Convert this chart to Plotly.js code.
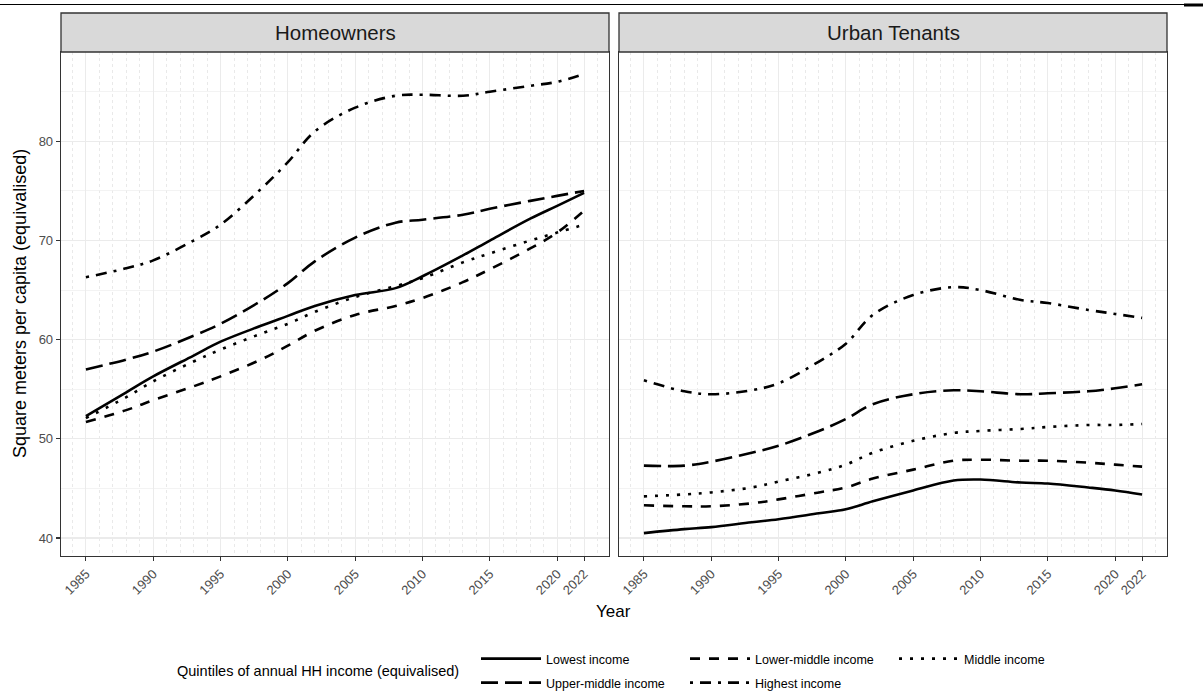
<!DOCTYPE html>
<html>
<head>
<meta charset="utf-8">
<script src="https://cdn.plot.ly/plotly-3.0.1.min.js"></script>
<style>
  html, body { margin: 0; padding: 0; background: #ffffff; }
  #chart { width: 1203px; height: 693px; }
</style>
</head>
<body>
<div id="chart"></div>
<script>
// Smoothed living space per capita (m², equivalised) by income quintile
const years = [1985, 1988, 1990, 1993, 1995, 1998, 2000, 2002, 2005, 2008, 2010, 2013, 2015, 2018, 2020, 2022];

const ownersLowest      = [52.3, 54.7, 56.3, 58.4, 59.8, 61.4, 62.4, 63.4, 64.5, 65.2, 66.4, 68.5, 70.0, 72.2, 73.5, 74.8];
const ownersLowerMiddle = [51.7, 52.9, 53.9, 55.3, 56.3, 58.0, 59.4, 60.9, 62.5, 63.4, 64.2, 65.8, 67.1, 69.2, 70.8, 73.0];
const ownersMiddle      = [52.1, 54.2, 55.8, 57.8, 59.0, 60.6, 61.6, 62.8, 64.3, 65.4, 66.2, 67.8, 68.7, 70.0, 70.8, 71.6];
const ownersUpperMiddle = [57.0, 58.0, 58.8, 60.4, 61.6, 63.9, 65.7, 67.9, 70.3, 71.8, 72.1, 72.6, 73.2, 74.0, 74.5, 75.0];
const ownersHighest     = [66.3, 67.2, 68.0, 70.0, 71.6, 75.2, 77.9, 81.0, 83.4, 84.6, 84.7, 84.6, 85.0, 85.6, 86.0, 86.8];

const tenantsLowest      = [40.5, 40.9, 41.1, 41.6, 41.9, 42.5, 42.9, 43.7, 44.8, 45.8, 45.9, 45.6, 45.5, 45.1, 44.8, 44.4];
const tenantsLowerMiddle = [43.3, 43.2, 43.2, 43.5, 43.9, 44.6, 45.1, 46.0, 46.9, 47.8, 47.9, 47.8, 47.8, 47.6, 47.4, 47.2];
const tenantsMiddle      = [44.2, 44.4, 44.6, 45.1, 45.7, 46.6, 47.4, 48.6, 49.8, 50.6, 50.8, 51.0, 51.2, 51.4, 51.4, 51.5];
const tenantsUpperMiddle = [47.3, 47.3, 47.7, 48.6, 49.3, 50.8, 52.0, 53.5, 54.5, 54.9, 54.8, 54.5, 54.6, 54.8, 55.1, 55.5];
const tenantsHighest     = [55.9, 54.8, 54.5, 54.9, 55.6, 57.8, 59.6, 62.5, 64.5, 65.3, 65.0, 64.0, 63.7, 63.0, 62.6, 62.2];

const quintiles = ['Lowest income', 'Lower-middle income', 'Middle income', 'Upper-middle income', 'Highest income'];
const panels = ['Homeowners', 'Urban Tenants'];
const tickYears = [1985, 1990, 1995, 2000, 2005, 2010, 2015, 2020, 2022];

const ownerSeries  = [ownersLowest, ownersLowerMiddle, ownersMiddle, ownersUpperMiddle, ownersHighest];
const tenantSeries = [tenantsLowest, tenantsLowerMiddle, tenantsMiddle, tenantsUpperMiddle, tenantsHighest];

// line types: solid, dashed, dotted, long dash, dot-dash
const dashes = ['solid', '10px,9px', '3px,8px', '17px,7px', '3px,7px,11px,7px'];
const legendSlot = ['legend', 'legend', 'legend', 'legend2', 'legend2'];

const W = 1203, H = 693;
const px = v => v / W;          // horizontal pixel -> paper
const py = v => (H - v) / H;    // vertical pixel -> paper

const FONT = 'Liberation Sans, Arial, Helvetica, sans-serif';

const traces = [];
[ownerSeries, tenantSeries].forEach((group, p) => {
  group.forEach((vals, i) => {
    traces.push({
      type: 'scatter',
      mode: 'lines',
      x: years,
      y: vals,
      name: quintiles[i],
      legendgroup: quintiles[i],
      legend: legendSlot[i],
      showlegend: p === 0,
      xaxis: p === 0 ? 'x' : 'x2',
      yaxis: p === 0 ? 'y' : 'y2',
      line: { color: '#000000', width: 2.6, dash: dashes[i], shape: 'spline', smoothing: 1.0 },
      hoverinfo: 'skip'
    });
  });
});

const xRange = [1983.15, 2023.85];
const yRange = [38.19, 89.01];

function xAxis(domain) {
  return {
    domain: domain,
    range: xRange,
    automargin: false,
    tickmode: 'array',
    tickvals: tickYears,
    ticktext: tickYears.map(String),
    tickangle: -45,
    tickfont: { family: FONT, size: 13, color: '#4D4D4D' },
    ticks: 'outside',
    ticklen: 4,
    tickwidth: 1.1,
    tickcolor: '#333333',
    showline: true,
    mirror: true,
    linecolor: '#333333',
    linewidth: 1.3,
    showgrid: true,
    gridcolor: '#EBEBEB',
    gridwidth: 1.1,
    zeroline: false,
    minor: {
      tickmode: 'linear', tick0: 1985, dtick: 1,
      showgrid: true, gridcolor: '#DADADA', gridwidth: 0.6, griddash: 'dot', ticks: ''
    },
    fixedrange: true
  };
}

function yAxis(domain, withLabels, anchor) {
  return {
    domain: domain,
    range: yRange,
    anchor: anchor,
    automargin: false,
    tickmode: 'linear',
    tick0: 0,
    dtick: 10,
    showticklabels: withLabels,
    tickfont: { family: FONT, size: 13, color: '#4D4D4D' },
    ticks: withLabels ? 'outside' : '',
    ticklen: 4,
    tickwidth: 1.1,
    tickcolor: '#333333',
    showline: true,
    mirror: true,
    linecolor: '#333333',
    linewidth: 1.3,
    showgrid: true,
    gridcolor: '#EBEBEB',
    gridwidth: 1.1,
    zeroline: false,
    minor: { tickmode: 'linear', tick0: 0, dtick: 5, showgrid: true, gridcolor: '#F0F0F0', gridwidth: 0.8, ticks: '' },
    fixedrange: true
  };
}

const plotTop = 52, plotBottom = 556, stripTop = 13;
const leftDom = [px(61), px(609)];
const rightDom = [px(619), px(1167)];
const yDom = [py(plotBottom), py(plotTop)];

const shapes = [];
const annotations = [];

[leftDom, rightDom].forEach((dom, p) => {
  shapes.push({
    type: 'rect', xref: 'paper', yref: 'paper',
    x0: dom[0], x1: dom[1], y0: py(plotTop), y1: py(stripTop),
    fillcolor: '#D9D9D9', line: { color: '#333333', width: 1.3 }, layer: 'above'
  });
  annotations.push({
    xref: 'paper', yref: 'paper', x: (dom[0] + dom[1]) / 2, y: py((plotTop + stripTop) / 2),
    text: panels[p], showarrow: false, xanchor: 'center', yanchor: 'middle',
    font: { family: FONT, size: 20.5, color: '#1A1A1A' }
  });
});

// rule across the top of the page
shapes.push({ type: 'line', xref: 'paper', yref: 'paper', x0: 0, x1: px(1184), y0: py(4.5), y1: py(4.5),
  line: { color: '#000000', width: 1 } });
shapes.push({ type: 'line', xref: 'paper', yref: 'paper', x0: px(1184), x1: 1, y0: py(5), y1: py(5),
  line: { color: '#000000', width: 3 } });

annotations.push({
  xref: 'paper', yref: 'paper', x: px(20), y: py((plotTop + plotBottom) / 2),
  text: 'Square meters per capita (equivalised)', textangle: -90, showarrow: false,
  xanchor: 'center', yanchor: 'middle', font: { family: FONT, size: 18, color: '#000000' }
});
annotations.push({
  xref: 'paper', yref: 'paper', x: px(613), y: py(611),
  text: 'Year', showarrow: false, xanchor: 'center', yanchor: 'middle',
  font: { family: FONT, size: 17, color: '#000000' }
});
annotations.push({
  xref: 'paper', yref: 'paper', x: px(318), y: py(671),
  text: 'Quintiles of annual HH income (equivalised)', showarrow: false, xanchor: 'center', yanchor: 'middle',
  font: { family: FONT, size: 14.5, color: '#000000' }
});

const legendBase = {
  orientation: 'h',
  xanchor: 'left',
  yanchor: 'middle',
  x: px(476),
  entrywidth: 134,
  entrywidthmode: 'pixels',
  itemwidth: 60,
  traceorder: 'normal',
  bgcolor: 'rgba(0,0,0,0)',
  borderwidth: 0,
  font: { family: FONT, size: 12.5, color: '#000000' },
  itemclick: false,
  itemdoubleclick: false
};

const layout = {
  width: W,
  height: H,
  margin: { l: 0, r: 0, t: 0, b: 0, autoexpand: false },
  paper_bgcolor: '#FFFFFF',
  plot_bgcolor: '#FFFFFF',
  font: { family: FONT, color: '#000000' },
  showlegend: true,
  xaxis: Object.assign(xAxis(leftDom), { anchor: 'y' }),
  xaxis2: Object.assign(xAxis(rightDom), { anchor: 'y2' }),
  yaxis: yAxis(yDom, true, 'x'),
  yaxis2: yAxis(yDom, false, 'x2'),
  legend: Object.assign({}, legendBase, { y: py(659) }),
  legend2: Object.assign({}, legendBase, { y: py(683) }),
  shapes: shapes,
  annotations: annotations
};

Plotly.newPlot('chart', traces, layout, { displayModeBar: false, staticPlot: true });
</script>
</body>
</html>
